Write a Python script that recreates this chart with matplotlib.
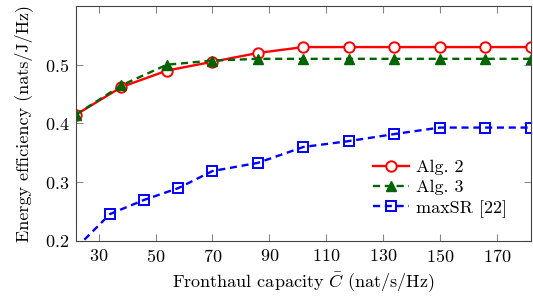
import matplotlib.pyplot as plt

plt.rcParams["font.family"] = "serif"
plt.rcParams["font.serif"] = ["cmr10"]
plt.rcParams["mathtext.fontset"] = "cm"
plt.rcParams["axes.formatter.use_mathtext"] = True

# данные
capacity = [22, 38, 54, 70, 86, 102, 118, 134, 150, 166, 182]
alg2 = [0.415, 0.462, 0.490, 0.505, 0.520, 0.530, 0.530, 0.530, 0.530, 0.530, 0.530]
alg3 = [0.415, 0.465, 0.500, 0.507, 0.510, 0.510, 0.510, 0.510, 0.510, 0.510, 0.510]

capacity_sr = [22, 34, 46, 58, 70, 86, 102, 118, 134, 150, 166, 182]
max_sr = [0.188, 0.246, 0.270, 0.290, 0.319, 0.333, 0.360, 0.370, 0.382, 0.393, 0.393, 0.393]

x_ticks = [30, 50, 70, 90, 110, 130, 150, 170]
y_ticks = [0.2, 0.3, 0.4, 0.5]

fig = plt.figure(figsize=(5.33, 2.97), dpi=100)
ax = fig.add_axes([0.1426, 0.1886, 0.8534, 0.7914])

ax.plot(capacity, alg2, color="red", lw=1.7, marker="o", markersize=7.5,
        markerfacecolor="white", markeredgewidth=1.4, label="Alg. 2")
ax.plot(capacity, alg3, color="#006400", lw=1.7, ls=(0, (3, 2)), marker="^",
        markersize=7.5, markerfacecolor="#006400", label="Alg. 3")
ax.plot(capacity_sr, max_sr, color="blue", lw=1.7, ls=(0, (3, 2)), marker="s",
        markersize=7, markerfacecolor="none", markeredgewidth=1.4,
        label="maxSR [22]")

ax.set_xlim(22, 182)
ax.set_ylim(0.2, 0.6)
ax.set_xticks(x_ticks)
ax.set_yticks(y_ticks)
ax.tick_params(direction="in", top=True, right=True, labelsize=13,
               color="#888888", length=5, pad=5)
for spine in ax.spines.values():
    spine.set_color("#444444")

ax.set_xlabel(r"Fronthaul capacity $\bar{C}$ (nat/s/Hz)", fontsize=13, labelpad=4)
ax.set_ylabel("Energy efficiency (nats/J/Hz)", fontsize=13, labelpad=8)

ax.legend(loc="lower right", frameon=False, fontsize=13, handlelength=2.0,
          borderaxespad=0.9, labelspacing=0.25, handletextpad=0.4)

fig.savefig("out.png", dpi=100)
